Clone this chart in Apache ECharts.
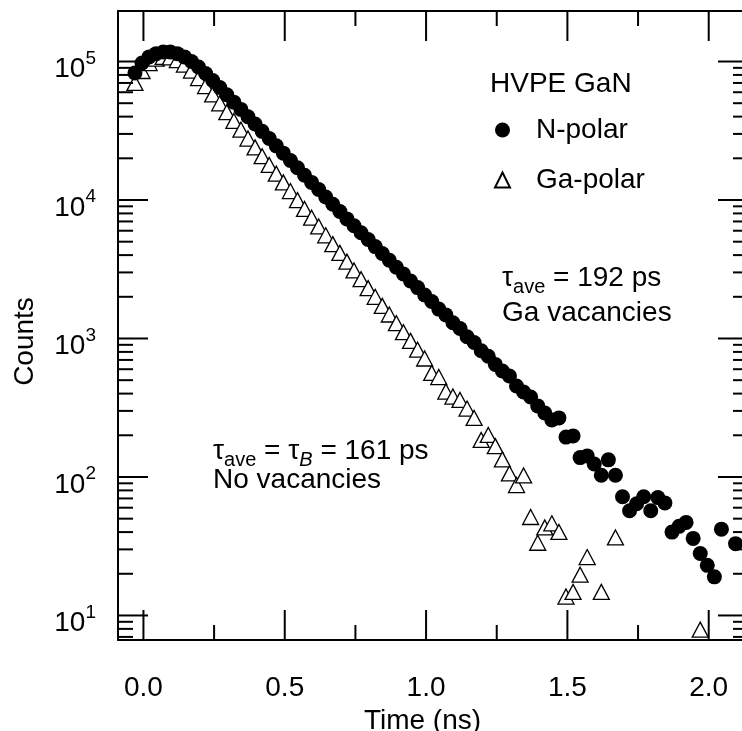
<!DOCTYPE html>
<html><head><meta charset="utf-8">
<script src="https://cdn.jsdelivr.net/npm/echarts@6/dist/echarts.min.js"></script>
<style>html,body{margin:0;padding:0;background:#fff}#c{width:742px;height:731px}</style>
</head><body><div id="c"></div>
<script>
// Time channels (ns)
const times = [-0.030,-0.005,0.020,0.045,0.070,0.095,0.120,0.145,0.170,0.195,
0.220,0.245,0.270,0.295,0.320,0.345,0.370,0.395,0.420,0.445,
0.470,0.495,0.520,0.545,0.570,0.595,0.620,0.645,0.670,0.695,
0.720,0.745,0.770,0.795,0.820,0.845,0.870,0.895,0.920,0.945,
0.970,0.995,1.020,1.045,1.070,1.095,1.120,1.145,1.170,1.195,
1.220,1.245,1.270,1.295,1.320,1.345,1.370,1.395,1.420,1.445,
1.470,1.495,1.520,1.545,1.570,1.595,1.620,1.645,1.670,1.695,
1.720,1.745,1.770,1.795,1.820,1.845,1.870,1.895,1.920,1.945,
1.970,1.995,2.020,2.045,2.070,2.095];
// N-polar counts
const nPolar = [82600,97500,108000,114000,117000,117000,114000,108000,100000,91200,
81900,72900,64900,57500,50900,45100,39900,35400,31300,27800,
24600,21800,19300,17100,15100,13400,11900,10500,9310,8250,
7300,6510,5800,5180,4610,4110,3670,3270,2920,2600,
2330,2060,1850,1630,1480,1300,1180,1030,935,815,
745,650,583,536,454,411,378,326,290,258,
267,194,198,138,142,124,103,133,103,72,
57,64,72,57,71,65,40,44,47,36,
28,23,19,42,null,33];
// Ga-polar counts
const gaPolar = [70000,85400,97500,105000,108000,107000,102500,95100,86100,76000,
66500,57800,49900,43100,37200,32200,27800,24000,20700,17900,
15500,13400,11600,9980,8620,7450,6440,5560,4800,4150,
3590,3100,2680,2310,2000,1720,1490,1290,1110,961,
830,717,564,527,414,381,360,312,267,185,
201,167,134,106,87.5,102.5,51.4,33.5,43.2,46.3,
40.1,13.7,14.8,19.7,26.4,null,14.8,null,36.6,null,
null,null,null,null,null,null,null,null,null,null,
7.9,null,null,null,null,null];
const xMajorTicks = [0, 0.5, 1, 1.5, 2];
const xMinorTicks = [0.25, 0.75, 1.25, 1.75];
const yMajorTicks = [10, 100, 1000, 10000, 100000];
const yMinorTicks = [7,8,9,20,30,40,50,60,70,80,90,200,300,400,500,600,700,800,900,
2000,3000,4000,5000,6000,7000,8000,9000,20000,30000,40000,50000,60000,70000,80000,90000];
const legendTitle = 'HVPE GaN';
const seriesNames = ['N-polar', 'Ga-polar'];

const FONT = '"Liberation Sans", Arial, Helvetica, sans-serif';
const X_MIN = -0.09, X_MAX = 2.139, Y_MIN = 6.65, Y_MAX = 231600;
const MAJOR_LEN = 30, MINOR_LEN = 15;

function pairs(vals) {
  const out = [];
  times.forEach((t, i) => { if (vals[i] != null) out.push([t, vals[i]]); });
  return out;
}
const TICK_STYLE = {stroke: '#000', lineWidth: 2};
function tickLine(x1, y1, x2, y2) {
  return {type: 'line', shape: {x1: x1, y1: y1, x2: x2, y2: y2}, style: TICK_STYLE};
}
function renderXTicks(params, api) {
  const v = api.value(0), len = api.value(2);
  const b = api.coord([v, Y_MIN]), t = api.coord([v, Y_MAX]);
  return {type: 'group', children: [
    tickLine(b[0], b[1], b[0], b[1] - len),
    tickLine(t[0], t[1], t[0], t[1] + len)
  ]};
}
function renderYTicks(params, api) {
  const v = api.value(1), len = api.value(2);
  const l = api.coord([X_MIN, v]), r = api.coord([X_MAX, v]);
  return {type: 'group', children: [
    tickLine(l[0], l[1], l[0] + len, l[1]),
    tickLine(r[0], r[1], r[0] - len, r[1])
  ]};
}
const xTickData = xMajorTicks.map(v => [v, 100, MAJOR_LEN]).concat(xMinorTicks.map(v => [v, 100, MINOR_LEN]));
const yTickData = yMajorTicks.map(v => [0, v, MAJOR_LEN]).concat(yMinorTicks.map(v => [0, v, MINOR_LEN]));

const chart = echarts.init(document.getElementById('c'), null, {renderer: 'canvas'});
const rich = {
  t: {fontSize: 28, fontFamily: FONT, fill: '#000', color: '#000'},
  sub: {fontSize: 20, fontFamily: FONT, fill: '#000', color: '#000', padding: [18, 0, 0, 0]},
  subi: {fontSize: 20, fontFamily: FONT, fontStyle: 'italic', fill: '#000', color: '#000', padding: [18, 0, 0, 0]}
};
function ann(x, y, text) {
  return {type: 'text', x: x, y: y, z: 50,
    style: {text: text, rich: rich, align: 'left', verticalAlign: 'middle', fontSize: 28, fontFamily: FONT, fill: '#000'}};
}
const lineOnly = {show: true, onZero: false, lineStyle: {color: '#000', width: 2}};

chart.setOption({
  animation: false,
  backgroundColor: '#fff',
  grid: {left: 118, top: 11, right: -6, bottom: 91, containLabel: false, outerBoundsMode: 'none'},
  title: {text: legendTitle, left: 485, top: 64,
    textStyle: {fontSize: 28, fontWeight: 'normal', color: '#000', fontFamily: FONT, lineHeight: 30}},
  legend: {data: seriesNames, orient: 'vertical', left: 489, top: 110, itemWidth: 15, itemHeight: 15,
    itemGap: 20, selectedMode: false,
    textStyle: {fontSize: 28, color: '#000', fontFamily: FONT, lineHeight: 30, padding: [0, 0, 0, 21]}},
  xAxis: [
    {type: 'value', position: 'bottom', min: X_MIN, max: X_MAX,
      axisLine: lineOnly, axisTick: {show: false}, splitLine: {show: false},
      axisLabel: {show: true, customValues: xMajorTicks, formatter: v => v.toFixed(1),
        fontSize: 28, color: '#000', fontFamily: FONT, margin: 34},
      name: 'Time (ns)', nameLocation: 'middle', nameGap: 64,
      nameTextStyle: {fontSize: 28, color: '#000', fontFamily: FONT, padding: [0, 21, 0, 0]}},
    {type: 'value', position: 'top', min: X_MIN, max: X_MAX,
      axisLine: lineOnly, axisTick: {show: false}, axisLabel: {show: false}, splitLine: {show: false}}
  ],
  yAxis: [
    {type: 'log', logBase: 10, position: 'left', min: Y_MIN, max: Y_MAX,
      axisLine: lineOnly, axisTick: {show: false}, splitLine: {show: false}, minorTick: {show: false},
      axisLabel: {show: true, customValues: yMajorTicks, margin: 22,
        formatter: v => '{b|10}{s|' + Math.round(Math.log10(v)) + '}',
        rich: {
          b: {fontSize: 28, fontFamily: FONT, color: '#000', padding: [16, 0, 0, 0]},
          s: {fontSize: 19, fontFamily: FONT, color: '#000', padding: [0, 0, 6, 0]}
        }},
      name: 'Counts', nameLocation: 'middle', nameGap: 79,
      nameTextStyle: {fontSize: 28, color: '#000', fontFamily: FONT, padding: [0, 32, 0, 0]}},
    {type: 'log', logBase: 10, position: 'right', min: Y_MIN, max: Y_MAX,
      axisLine: lineOnly, axisTick: {show: false}, axisLabel: {show: false}, splitLine: {show: false}, minorTick: {show: false}}
  ],
  series: [
    {name: 'Ga-polar', type: 'scatter', xAxisIndex: 0, yAxisIndex: 0, data: pairs(gaPolar),
      symbol: 'triangle', symbolSize: [16, 15], z: 2,
      itemStyle: {color: '#fff', borderColor: '#000', borderWidth: 1.3, opacity: 1}},
    {name: 'N-polar', type: 'scatter', xAxisIndex: 0, yAxisIndex: 0, data: pairs(nPolar),
      symbol: 'circle', symbolSize: 15, z: 3,
      itemStyle: {color: '#000', opacity: 1}},
    {type: 'custom', name: 'xticks', xAxisIndex: 0, yAxisIndex: 0, data: xTickData,
      renderItem: renderXTicks, z: 5, silent: true, clip: false},
    {type: 'custom', name: 'yticks', xAxisIndex: 0, yAxisIndex: 0, data: yTickData,
      renderItem: renderYTicks, z: 5, silent: true, clip: false}
  ],
  graphic: [
    ann(502, 278, '{t|τ}{sub|ave}{t| = 192 ps}'),
    ann(502, 313, '{t|Ga vacancies}'),
    ann(213, 451, '{t|τ}{sub|ave}{t| = τ}{subi|B}{t| = 161 ps}'),
    ann(213, 480, '{t|No vacancies}')
  ]
});
</script></body></html>
